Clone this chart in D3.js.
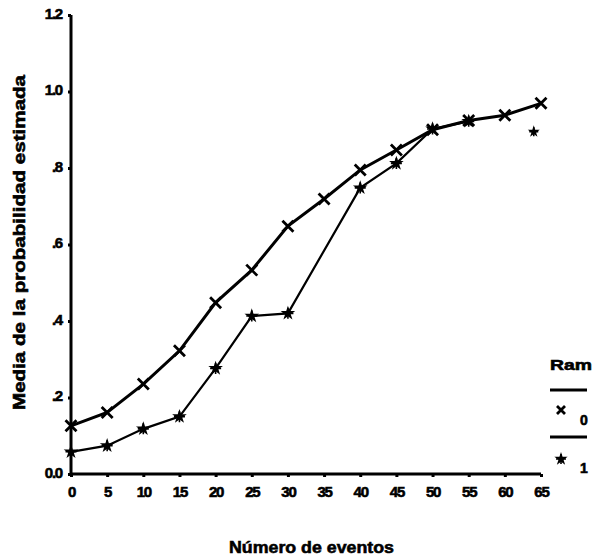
<!DOCTYPE html>
<html><head><meta charset="utf-8">
<script src="https://cdn.jsdelivr.net/npm/d3@7"></script>
<style>body{margin:0;background:#fff}text{font-family:"Liberation Sans",Arial,sans-serif;font-weight:bold;fill:#000;stroke:#000;stroke-width:0.6px}</style>
</head><body><svg id="c" width="594" height="558"></svg>
<script>
const events = [0,5,10,15,20,25,30,35,40,45,50,55,60,65];
const ram0 = [0.126,0.161,0.235,0.322,0.448,0.533,0.648,0.719,0.795,0.847,0.900,0.924,0.938,0.969];
const ram1Events = [0,5,10,15,20,25,30,40,45,50,55];
const ram1 = [0.058,0.074,0.118,0.150,0.276,0.413,0.420,0.748,0.812,0.902,0.922];
const ram1Extra = [{e:64, v:0.895}];
const yTicks = [0,0.2,0.4,0.6,0.8,1.0,1.2];
const yTickLabels = ["0.0",".2",".4",".6",".8","1.0","1.2"];
const legendTitle = "Ram";
const legendLabels = ["0","1"];

const svg = d3.select("#c");
const x = d3.scaleLinear().domain([0,65]).range([71,541]);
const y = d3.scaleLinear().domain([0,1.2]).range([474,15]);

// axes
const xAxis = d3.axisBottom(x).tickValues(events).tickSize(3).tickPadding(9).tickFormat(d3.format("d"));
const gx = svg.append("g").attr("transform","translate(0,474)").call(xAxis);
gx.select(".domain").attr("stroke","#000").attr("stroke-width",3).attr("d","M71,0H541");
gx.selectAll(".tick line").attr("stroke","#000").attr("stroke-width",3);
gx.selectAll(".tick text").attr("font-size",15).attr("letter-spacing","-1.2");

const yAxis = d3.axisLeft(y).tickValues(yTicks).tickSize(3).tickPadding(6).tickFormat((d,i)=>yTickLabels[i]);
const gy = svg.append("g").attr("transform","translate(71,0)").call(yAxis);
gy.select(".domain").attr("stroke","#000").attr("stroke-width",3).attr("d","M0,15V474");
gy.selectAll(".tick line").attr("stroke","#000").attr("stroke-width",3);
gy.selectAll(".tick text").attr("font-size",15).attr("letter-spacing","-1.2").attr("dy","0.2em");

// titles
svg.append("text").attr("x",229).attr("y",553).attr("font-size",17)
  .attr("textLength",165).attr("lengthAdjust","spacingAndGlyphs").text("Número de eventos");
svg.append("text").attr("transform","translate(25,410) rotate(-90)").attr("font-size",17)
  .attr("textLength",335).attr("lengthAdjust","spacingAndGlyphs").text("Media de la probabilidad estimada");

// lines
const line = d3.line().x(d=>x(d[0])).y(d=>y(d[1]));
const d0 = events.map((e,i)=>[e,ram0[i]]);
const d1 = ram1Events.map((e,i)=>[e,ram1[i]]);
svg.append("path").attr("d",line(d1)).attr("fill","none").attr("stroke","#000").attr("stroke-width",2.2);
svg.append("path").attr("d",line(d0)).attr("fill","none").attr("stroke","#000").attr("stroke-width",3);

function cross(g,cx,cy,s,w){
  g.append("path").attr("d",`M${cx-s},${cy-s}L${cx+s},${cy+s}M${cx-s},${cy+s}L${cx+s},${cy-s}`)
   .attr("stroke","#000").attr("stroke-width",w||2.8).attr("fill","none");
}
function star(g,cx,cy,s){
  g.append("path").attr("d",d3.symbol(d3.symbolStar, s*s*2.2)()).attr("transform",`translate(${cx},${cy})`).attr("fill","#000");
  g.append("path").attr("d",`M${cx-s},${cy}L${cx+s},${cy}M${cx},${cy-s}L${cx},${cy+s}`).attr("stroke","#000").attr("stroke-width",1.6);
}
const m = svg.append("g");
d1.forEach(d=>star(m,x(d[0]),y(d[1]),5.5));
ram1Extra.forEach(d=>star(m,x(d.e),y(d.v),4.5));
d0.forEach(d=>cross(m,x(d[0]),y(d[1]),5.5));

// legend
const lg = svg.append("g");
lg.append("text").attr("x",550).attr("y",370).attr("font-size",15)
  .attr("textLength",42).attr("lengthAdjust","spacingAndGlyphs").text(legendTitle);
lg.append("line").attr("x1",550).attr("x2",587).attr("y1",390).attr("y2",390).attr("stroke","#000").attr("stroke-width",3);
cross(lg,561,410,4,2.8);
lg.append("text").attr("x",580).attr("y",425).attr("font-size",14).text(legendLabels[0]);
lg.append("line").attr("x1",550).attr("x2",587).attr("y1",437).attr("y2",437).attr("stroke","#000").attr("stroke-width",3);
star(lg,561,459,5);
lg.append("text").attr("x",580).attr("y",473).attr("font-size",14).text(legendLabels[1]);
</script></body></html>
